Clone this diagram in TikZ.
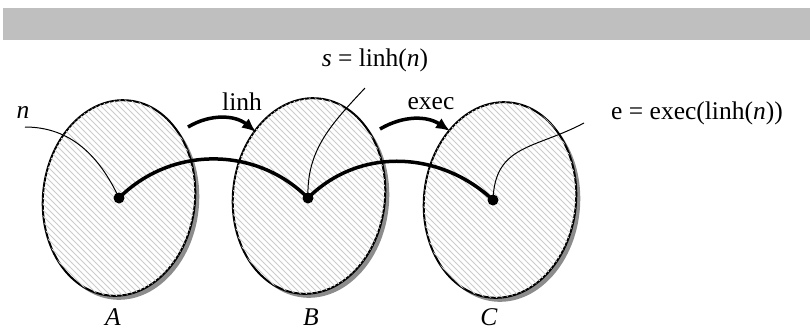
\documentclass[tikz,border=0pt]{standalone}
\usepackage{fontspec}
\setmainfont{Liberation Serif}
\usetikzlibrary{patterns,arrows.meta}

\begin{document}
\begin{tikzpicture}[x=0.5pt,y=0.5pt,
  every node/.style={font=\fontsize{12.75}{15}\selectfont},
  setbody/.style={draw=black,line width=1pt,fill=white,
    postaction={pattern=north west lines,pattern color=gray!40}},
  setshadow/.style={fill=gray!90},
  elem/.style={circle,fill=black,inner sep=0pt,minimum size=5.5pt},
  leader/.style={line width=0.5pt},
  route/.style={line width=1.75pt},
  maparrow/.style={line width=1.75pt,-{Latex[length=7pt,width=6pt]}}]
\useasboundingbox (0,0) rectangle (810,329);
\fill[gray!50] (3,289) rectangle (810,321);

% the three sets, with their shadows
\foreach \cx/\cy in {119/131,309/133,500/129}{
  \fill[setshadow,rotate around={-6:(\cx+4,\cy-4)}] (\cx+4,\cy-4) ellipse (76 and 98);
  \draw[setbody,rotate around={-6:(\cx,\cy)}] (\cx,\cy) ellipse (76 and 98);
}

\node[elem] (a) at (119,131) {};
\node[elem] (b) at (308,131) {};
\node[elem] (c) at (493,129) {};

\draw[route] (a.center) to[out=45,in=135] (b.center) to[out=45,in=137] (c.center);

% names of the sets
\node (labA) at (113,12) {\textit{A}};
\node (labB) at (311,12) {\textit{B}};
\node (labC) at (489,12) {\textit{C}};

% the maps
\coordinate (linhS) at (188,202);
\coordinate (linhE) at (256,197);
\draw[maparrow] (linhS) to[bend left=35] (linhE);
\node (linh) at (242,227) {linh};
\coordinate (execS) at (380,200);
\coordinate (execE) at (450,198);
\draw[maparrow] (execS) to[bend left=32] (execE);
\node (exec) at (431,225) {exec};

% element labels and leaders
\node (nlab) at (23,217) {\textit{n}};
\coordinate (nend) at (25,202);
\draw[leader] (nend) to[out=0,in=115] (a.center);
\node (slab) at (375,269) {\textit{s} = linh(\textit{n})};
\coordinate (send) at (365,241);
\draw[leader] (send) to[out=-133,in=92] (b.center);
\node (elab) at (697,216) {e = exec(linh(\textit{n}))};
\coordinate (eend) at (584,206);
\draw[leader] (eend) to[out=-152,in=88,looseness=1.2] (c.center);
\end{tikzpicture}
\end{document}
